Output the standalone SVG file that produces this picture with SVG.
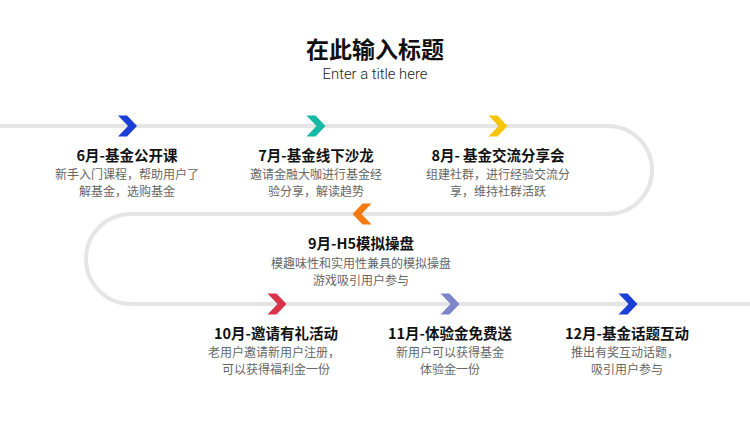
<svg xmlns="http://www.w3.org/2000/svg" width="750" height="422" viewBox="0 0 750 422">
<style>
.t{font-family:"Noto Sans CJK SC","Noto Sans",sans-serif;text-anchor:middle}
.title{font-size:23px;font-weight:700;fill:#111}
.sub{font-family:Roboto,"Noto Sans",sans-serif;font-size:14.8px;font-weight:300;fill:#222;text-anchor:middle}
.lbl{font-size:14.5px;font-weight:700;fill:#111}
.desc{font-size:12px;fill:#666}
.track{fill:none;stroke:#e5e5e5;stroke-width:4}
</style>
<defs>
<polygon id="chev" points="-9.5,-10.5 -0.5,-10.5 9.5,0 -0.5,10.5 -9.5,10.5 0.5,0"/>
</defs>
<rect width="750" height="422" fill="#fff"/>
<g id="header">
<text class="t title" x="375" y="57.5">在此输入标题</text>
<text class="sub" x="375" y="79">Enter a title here</text>
</g>
<g id="connectors">
<path class="track" d="M0,126 H608 A44,44 0 0 1 608,214 H131 A45,45 0 0 0 131,304 H750"/>
<use href="#chev" x="127.5" y="126" fill="#1a3fd6"/>
<use href="#chev" x="316" y="126" fill="#16b9a5"/>
<use href="#chev" x="498" y="126" fill="#f7c40c"/>
<use href="#chev" transform="translate(362,214) scale(-1,1)" fill="#f57a10"/>
<use href="#chev" x="277" y="304" fill="#d8334a"/>
<use href="#chev" x="450" y="304" fill="#8085c8"/>
<use href="#chev" x="628" y="304" fill="#1a3fd6"/>
</g>
<g id="node-jun">
<text class="t lbl" x="127" y="161">6月-基金公开课</text>
<text class="t desc" x="127" y="179">新手入门课程，帮助用户了</text>
<text class="t desc" x="127" y="196">解基金，选购基金</text>
</g>
<g id="node-jul">
<text class="t lbl" x="316" y="161">7月-基金线下沙龙</text>
<text class="t desc" x="316" y="179">邀请金融大咖进行基金经</text>
<text class="t desc" x="316" y="196">验分享，解读趋势</text>
</g>
<g id="node-aug">
<text class="t lbl" x="498" y="161">8月- 基金交流分享会</text>
<text class="t desc" x="498" y="179">组建社群，进行经验交流分</text>
<text class="t desc" x="498" y="196">享，维持社群活跃</text>
</g>
<g id="node-sep">
<text class="t lbl" x="361" y="249">9月-H5模拟操盘</text>
<text class="t desc" x="361" y="268">模趣味性和实用性兼具的模拟操盘</text>
<text class="t desc" x="361" y="285">游戏吸引用户参与</text>
</g>
<g id="node-oct">
<text class="t lbl" x="276" y="339">10月-邀请有礼活动</text>
<text class="t desc" x="274" y="357">老用户邀请新用户注册，</text>
<text class="t desc" x="276" y="374">可以获得福利金一份</text>
</g>
<g id="node-nov">
<text class="t lbl" x="450" y="339">11月-体验金免费送</text>
<text class="t desc" x="450" y="357">新用户可以获得基金</text>
<text class="t desc" x="450" y="374">体验金一份</text>
</g>
<g id="node-dec">
<text class="t lbl" x="627" y="339">12月-基金话题互动</text>
<text class="t desc" x="625" y="357">推出有奖互动话题，</text>
<text class="t desc" x="627" y="374">吸引用户参与</text>
</g>
</svg>
